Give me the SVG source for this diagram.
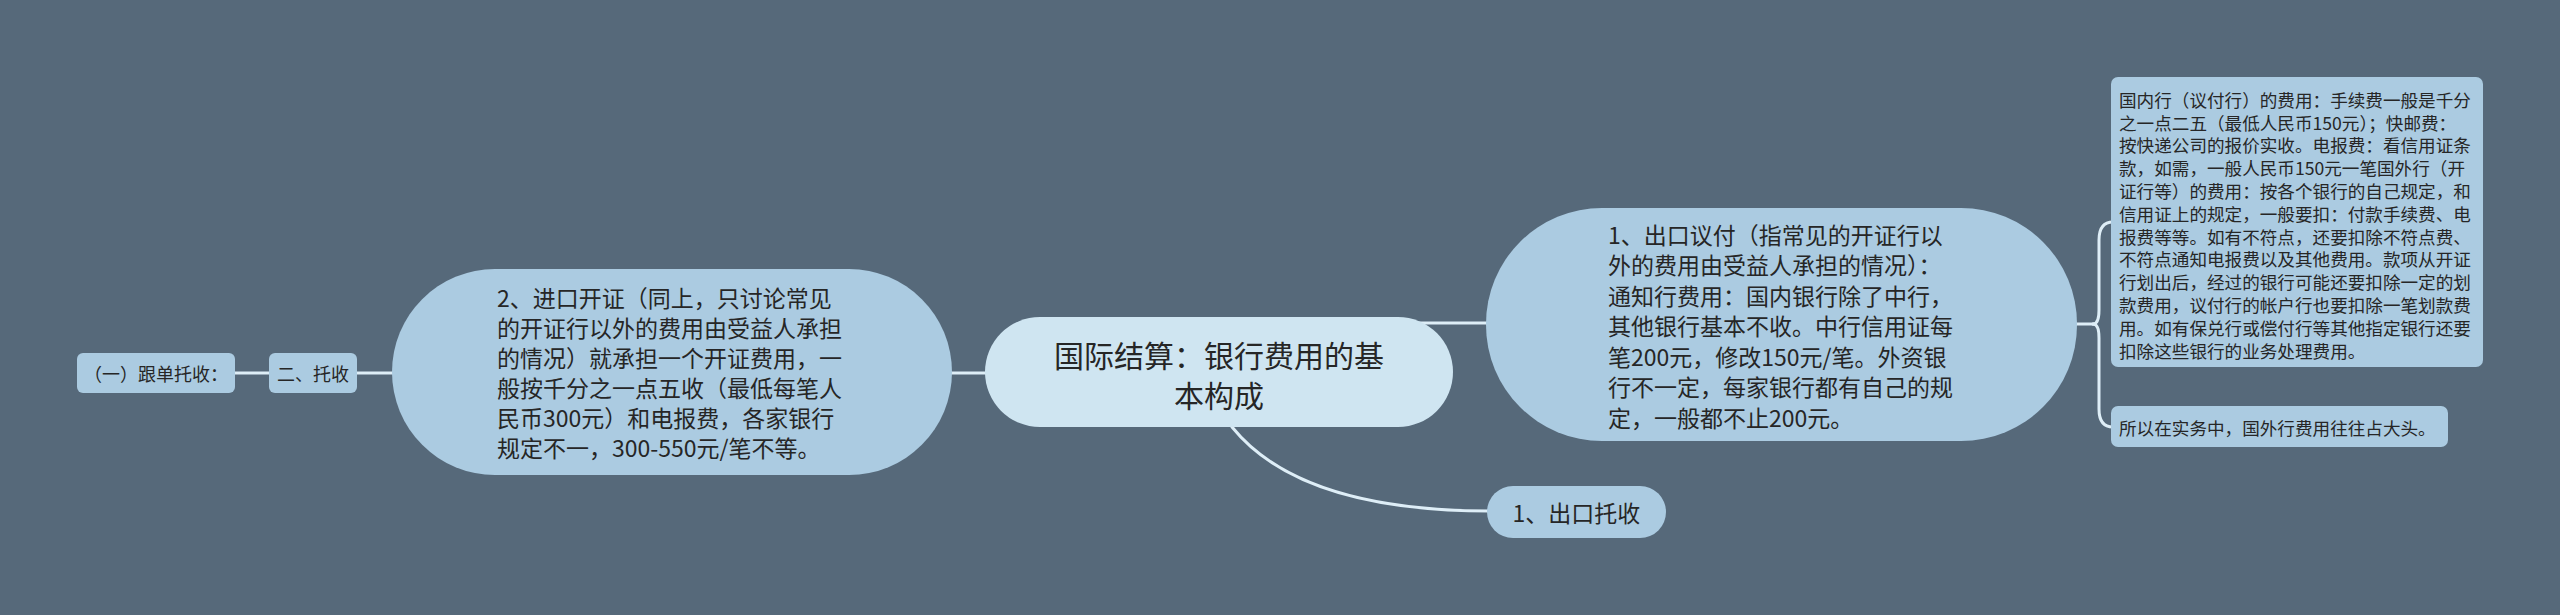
<svg xmlns="http://www.w3.org/2000/svg" width="2560" height="615" viewBox="0 0 2560 615">
<style>
.bg{fill:#56697a}
.main{fill:#cfe5f1}
.node{fill:#abcbe1}
.link{fill:none;stroke:#deeef7;stroke-width:3;stroke-linecap:round}
text{font-family:"Noto Sans CJK SC","Noto Sans",sans-serif;fill:#262626;dominant-baseline:central}
.t30{font-size:30px}
.t23{font-size:23px}
.t18{font-size:18px}
.t17{font-size:17.6px}
</style>
<rect class="bg" x="0" y="0" width="2560" height="615"/>
<g id="connectors">
<line class="link" x1="235" y1="373" x2="270" y2="373"/>
<line class="link" x1="356" y1="373" x2="400" y2="373"/>
<line class="link" x1="940" y1="373" x2="995" y2="373"/>
<line class="link" x1="1380" y1="323" x2="1495" y2="323"/>
<path class="link" d="M1232,427 Q1300,511 1490,511"/>
<line class="link" x1="2070" y1="324" x2="2093" y2="324"/>
<path class="link" d="M2093,324 Q2099,324 2099,310 L2099,240 Q2099,222 2113,222"/>
<path class="link" d="M2093,324 Q2099,324 2099,338 L2099,409 Q2099,427 2113,427"/>
</g>
<g id="root">
<rect class="main" x="985" y="317" width="468" height="110" rx="55"/>
<text class="t30" x="1219" y="354" text-anchor="middle">国际结算：银行费用的基</text>
<text class="t30" x="1219" y="394" text-anchor="middle">本构成</text>
</g>
<g id="n-import">
<rect class="node" x="392" y="269" width="560" height="206" rx="103"/>
<text class="t23" x="497" y="297">2、进口开证（同上，只讨论常见</text>
<text class="t23" x="497" y="327">的开证行以外的费用由受益人承担</text>
<text class="t23" x="497" y="357">的情况）就承担一个开证费用，一</text>
<text class="t23" x="497" y="387">般按千分之一点五收（最低每笔人</text>
<text class="t23" x="497" y="417">民币300元）和电报费，各家银行</text>
<text class="t23" x="497" y="447">规定不一，300-550元/笔不等。</text>
</g>
<g id="n-collection">
<rect class="node" x="269" y="353" width="88" height="40" rx="6"/>
<text class="t18" x="313" y="373" text-anchor="middle">二、托收</text>
</g>
<g id="n-documentary">
<rect class="node" x="77" y="353" width="158" height="40" rx="6"/>
<text class="t18" x="156" y="373" text-anchor="middle">（一）跟单托收：</text>
</g>
<g id="n-export-nego">
<rect class="node" x="1486" y="208" width="591" height="233" rx="116"/>
<text class="t23" x="1608" y="233.5">1、出口议付（指常见的开证行以</text>
<text class="t23" x="1608" y="264">外的费用由受益人承担的情况）：</text>
<text class="t23" x="1608" y="294.5">通知行费用：国内银行除了中行，</text>
<text class="t23" x="1608" y="325">其他银行基本不收。中行信用证每</text>
<text class="t23" x="1608" y="355.5">笔200元，修改150元/笔。外资银</text>
<text class="t23" x="1608" y="386">行不一定，每家银行都有自己的规</text>
<text class="t23" x="1608" y="416.5">定，一般都不止200元。</text>
</g>
<g id="n-export-collection">
<rect class="node" x="1487" y="486" width="179" height="52" rx="26"/>
<text class="t23" x="1576.5" y="512" text-anchor="middle">1、出口托收</text>
</g>
<g id="n-fees">
<rect class="node" x="2111" y="77" width="372" height="290" rx="7"/>
<text class="t17" x="2119" y="99.3">国内行（议付行）的费用：手续费一般是千分</text>
<text class="t17" x="2119" y="122.1">之一点二五（最低人民币150元）；快邮费：</text>
<text class="t17" x="2119" y="144.9">按快递公司的报价实收。电报费：看信用证条</text>
<text class="t17" x="2119" y="167.7">款，如需，一般人民币150元一笔国外行（开</text>
<text class="t17" x="2119" y="190.5">证行等）的费用：按各个银行的自己规定，和</text>
<text class="t17" x="2119" y="213.3">信用证上的规定，一般要扣：付款手续费、电</text>
<text class="t17" x="2119" y="236.1">报费等等。如有不符点，还要扣除不符点费、</text>
<text class="t17" x="2119" y="258.9">不符点通知电报费以及其他费用。款项从开证</text>
<text class="t17" x="2119" y="281.7">行划出后，经过的银行可能还要扣除一定的划</text>
<text class="t17" x="2119" y="304.5">款费用，议付行的帐户行也要扣除一笔划款费</text>
<text class="t17" x="2119" y="327.3">用。如有保兑行或偿付行等其他指定银行还要</text>
<text class="t17" x="2119" y="350.1">扣除这些银行的业务处理费用。</text>
</g>
<g id="n-summary">
<rect class="node" x="2111" y="406" width="337" height="41" rx="7"/>
<text class="t17" x="2119" y="427">所以在实务中，国外行费用往往占大头。</text>
</g>
</svg>
